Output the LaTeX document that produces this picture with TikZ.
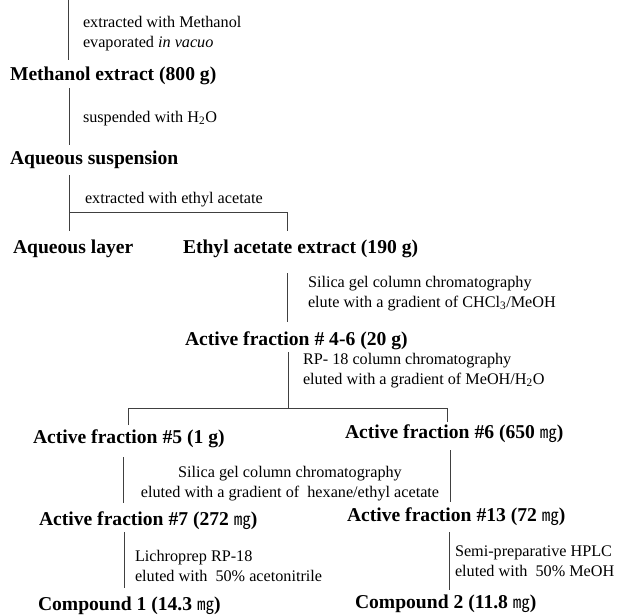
\documentclass[tikz,border=0pt]{standalone}
\usepackage{fontspec}
\setmainfont{Liberation Serif}
\newfontfamily\cjk{Noto Sans CJK SC}
\usepackage{tikz}

\newcommand{\mgunit}{{\cjk\mdseries\fontsize{17}{19}\selectfont ㎎}}

\tikzset{
    stage/.style={anchor=base west, inner sep=0pt, outer sep=0pt,
        font=\fontsize{19.6}{22}\selectfont\bfseries},
    note/.style={anchor=base west, inner sep=0pt, outer sep=0pt, align=left,
        font=\fontsize{16.2}{19.5}\selectfont},
    link/.style={line width=0.8pt, black!75},
}

\begin{document}
\begin{tikzpicture}[x=1pt, y=-1pt]
        \useasboundingbox (0,0) rectangle (632,614);

        % stages
        \node[stage] (mext) at (10,80) {Methanol extract (800 g)};
        \node[stage] (aqs) at (10,164) {Aqueous suspension};
        \node[stage] (aql) at (13,253) {Aqueous layer};
        \node[stage] (eae) at (183,253) {Ethyl acetate extract (190 g)};
        \node[stage] (af46) at (185,345) {Active fraction \# 4-6 (20 g)};
        \node[stage] (af5) at (33,443) {Active fraction \#5 (1 g)};
        \node[stage] (af6) at (345,438) {Active fraction \#6 (650 \mgunit)};
        \node[stage] (af7) at (39,525) {Active fraction \#7 (272 \mgunit)};
        \node[stage] (af13) at (347,521) {Active fraction \#13 (72 \mgunit)};
        \node[stage] (cp1) at (38,610) {Compound 1 (14.3 \mgunit)};
        \node[stage] (cp2) at (355,608) {Compound 2 (11.8 \mgunit)};

        % steps (base = last line)
        \node[note] (n1) at (83,47) {extracted with Methanol\\evaporated \textit{in vacuo}};
        \node[note] (n2) at (83,122) {suspended with H\textsubscript{2}O};
        \node[note] (n3) at (85,203) {extracted with ethyl acetate};
        \node[note] (n4) at (308,307) {Silica gel column chromatography\\elute with a gradient of CHCl\textsubscript{3}/MeOH};
        \node[note] (n5) at (303,384) {RP- 18 column chromatography\\eluted with a gradient of MeOH/H\textsubscript{2}O};
        \node[note, anchor=base, align=center] (n6) at (290,497) {Silica gel column chromatography\\eluted with a gradient of \ hexane/ethyl acetate};
        \node[note] (n7) at (135,581) {Lichroprep RP-18\\eluted with \ 50\% acetonitrile};
        \node[note] (n8) at (455,576) {Semi-preparative HPLC\\eluted with \ 50\% MeOH};

        % branch points
        \coordinate (src) at (68,0);
        \coordinate (s2) at (69,0);
        \coordinate (ea) at (69,212);
        \coordinate (eb) at (287,212);
        \coordinate (fm) at (288,408);
        \coordinate (fa) at (128,408);
        \coordinate (fb) at (447,408);
        \coordinate (s6l) at (123,0);
        \coordinate (s6r) at (450,0);
        \coordinate (s7l) at (124,0);
        \coordinate (s7r) at (449,0);

        \draw[link, shorten >=6pt] (src) -- (mext.north -| src);
        \draw[link, shorten <=4pt, shorten >=5pt] (mext.south -| s2) -- (aqs.north -| s2);
        \draw[link, shorten <=7pt, shorten >=8pt] (aqs.south -| ea) -- (aql.north -| ea);
        \draw[link, shorten >=8pt] (ea) -- (eb) -- (eae.north -| eb);
        \draw[link, shorten <=16pt, shorten >=9pt] (eae.south -| eb) -- (af46.north -| eb);
        \draw[link, shorten <=3pt] (af46.south -| fm) -- (fm);
        \draw[link, shorten <=4pt, shorten >=2pt] (af5.north -| fa) -- (fa) -- (fb) -- (af6.north -| fb);
        \draw[link, shorten <=10pt, shorten >=8.5pt] (af5.south -| s6l) -- (af7.north -| s6l);
        \draw[link, shorten <=8pt, shorten >=5.5pt] (af6.south -| s6r) -- (af13.north -| s6r);
        \draw[link, shorten <=3pt, shorten >=8.5pt] (af7.south -| s7l) -- (cp1.north -| s7l);
        \draw[link, shorten <=7pt, shorten >=4.5pt] (af13.south -| s7r) -- (cp2.north -| s7r);
    \end{tikzpicture}
\end{document}
